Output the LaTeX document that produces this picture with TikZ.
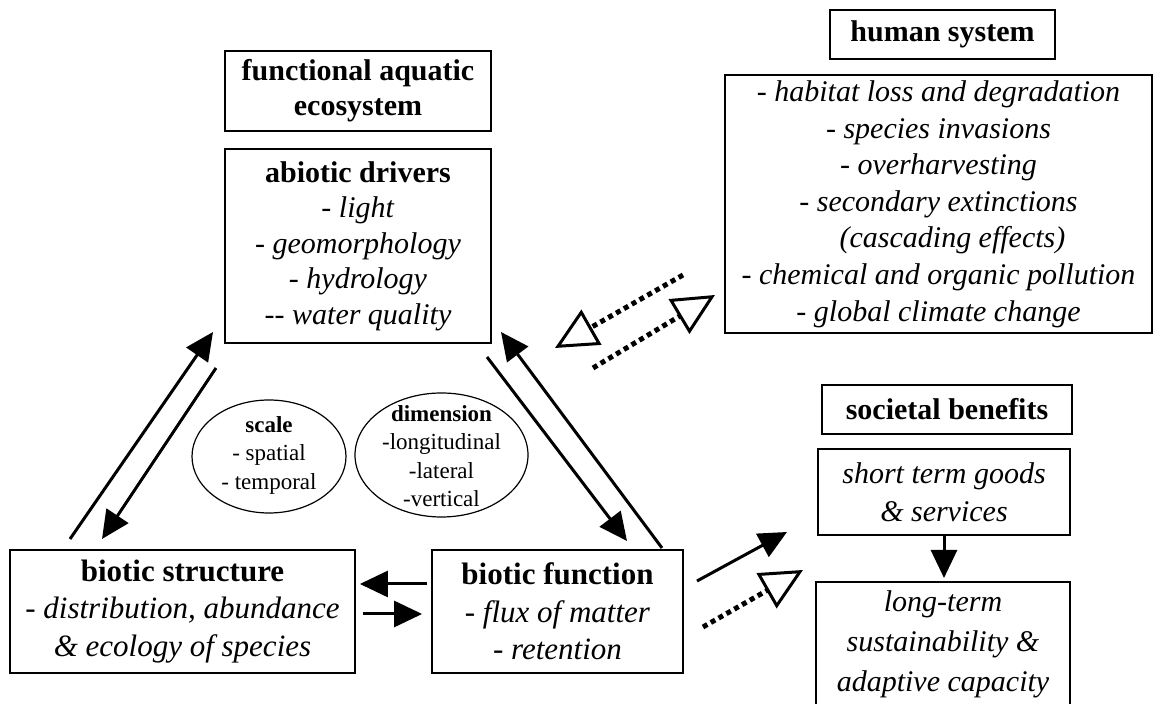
\documentclass[tikz,border=0pt]{standalone}
\usepackage{fontspec}
\setmainfont{Liberation Serif}
\usetikzlibrary{arrows.meta,calc}

\begin{document}
\begin{tikzpicture}[x=0.5pt,y=-0.5pt,
  box/.style={draw,line width=0.9pt,align=center,inner sep=2pt,font=\fontsize{15}{17.75}\selectfont},
  oval/.style={align=center,inner sep=0pt,font=\fontsize{11.5}{14.25}\selectfont},
  solidarr/.style={line width=1.5pt,-{Triangle[length=14pt,width=13pt]}},
  openarr/.style={line width=2.5pt,dash pattern=on 2.5pt off 2pt,-{Triangle[open,length=21pt,width=20pt,line width=1.5pt]}}]
  \useasboundingbox (0,0) rectangle (1153,704);
  \clip (0,0) rectangle (1153,704);

  \node[box,minimum width=133pt,minimum height=40pt,font=\fontsize{15}{17.5}\selectfont\bfseries] (func) at (358,91) {functional aquatic\\ecosystem};
  \node[box,minimum width=133pt,minimum height=97pt] (abio) at (358,246) {\textbf{abiotic drivers}\\\textit{- light}\\\textit{- geomorphology}\\\textit{- hydrology}\\\textit{-{}- water quality}};

  \node[box,minimum width=112.5pt,minimum height=24.5pt,font=\fontsize{15}{17.5}\selectfont\bfseries] (human) at (942.5,34.5) {human system};
  \node[box,minimum width=213.5pt,minimum height=129pt,font=\fontsize{15}{18.3}\selectfont\itshape] (hlist) at (938.5,204) {- habitat loss and degradation\\- species invasions\\- overharvesting\\- secondary extinctions\\\hspace*{14pt}(cascading effects)\\- chemical and organic pollution\\- global climate change};

  \node[box,minimum width=125pt,minimum height=24.5pt,font=\fontsize{15}{17.5}\selectfont\bfseries] (soc) at (947,409.5) {societal benefits};
  \node[box,minimum width=126pt,minimum height=43pt,font=\fontsize{15}{19}\selectfont\itshape] (short) at (944,492) {short term goods\\\& services};
  \node[align=center,font=\fontsize{15}{20}\selectfont\itshape] (long) at (943,644) {long-term\\sustainability \&\\adaptive capacity};
  \draw[line width=0.9pt] (816,740) |- (1070,582) -- (1070,740);
  \coordinate (longtop) at (944,578);

  \node[box,minimum width=172.5pt,minimum height=61.5pt,font=\fontsize{15.5}{18.75}\selectfont] (bs) at (182.5,611.5) {\textbf{biotic structure}\\\textit{- distribution, abundance}\\\textit{\& ecology of species}};
  \node[box,minimum width=125.5pt,minimum height=61.5pt,font=\fontsize{15.5}{18.75}\selectfont] (bf) at (557.5,611.5) {\textbf{biotic function}\\\textit{- flux of matter}\\\textit{- retention}};

  \node[oval] (scale) at (269,455) {\textbf{scale}\\- spatial\\- temporal};
  \draw[line width=0.6pt] (269,456.5) ellipse (38.5pt and 28.25pt);
  \node[oval] (dim) at (441.5,456) {\textbf{dimension}\\-longitudinal\\-lateral\\-vertical};
  \draw[line width=0.6pt] (441.5,455) ellipse (43.25pt and 31pt);

  \coordinate (l1s) at (70,539);  \coordinate (l1e) at (213,332);
  \coordinate (l2s) at (216,368); \coordinate (l2e) at (102,539);
  \coordinate (r1s) at (487,357); \coordinate (r1e) at (627,541);
  \coordinate (r2s) at (662,548); \coordinate (r2e) at (501,332);
  \coordinate (d1s) at (683,275); \coordinate (d1e) at (555,348);
  \coordinate (d2s) at (593,368); \coordinate (d2e) at (715,295);
  \coordinate (b1s) at (697,581); \coordinate (b1e) at (787,532);
  \coordinate (b2s) at (703,627); \coordinate (b2e) at (803,570);

  \draw[solidarr] (l1s) -- (l1e);
  \draw[solidarr] (l2s) -- (l2e);
  \draw[solidarr] (r1s) -- (r1e);
  \draw[solidarr] (r2s) -- (r2e);
  \draw[solidarr] ([xshift=-2pt,yshift=13.75pt]bf.west) -- ([xshift=2pt,yshift=13.75pt]bs.east);
  \draw[solidarr] ([xshift=3.5pt,yshift=-1.25pt]bs.east) -- ([xshift=-4.5pt,yshift=-1.25pt]bf.west);
  \draw[openarr] (d1s) -- (d1e);
  \draw[openarr] (d2s) -- (d2e);
  \draw[solidarr] (b1s) -- (b1e);
  \draw[openarr] (b2s) -- (b2e);
  \draw[solidarr] (short.south) -- (short.south |- longtop);
\end{tikzpicture}
\end{document}
